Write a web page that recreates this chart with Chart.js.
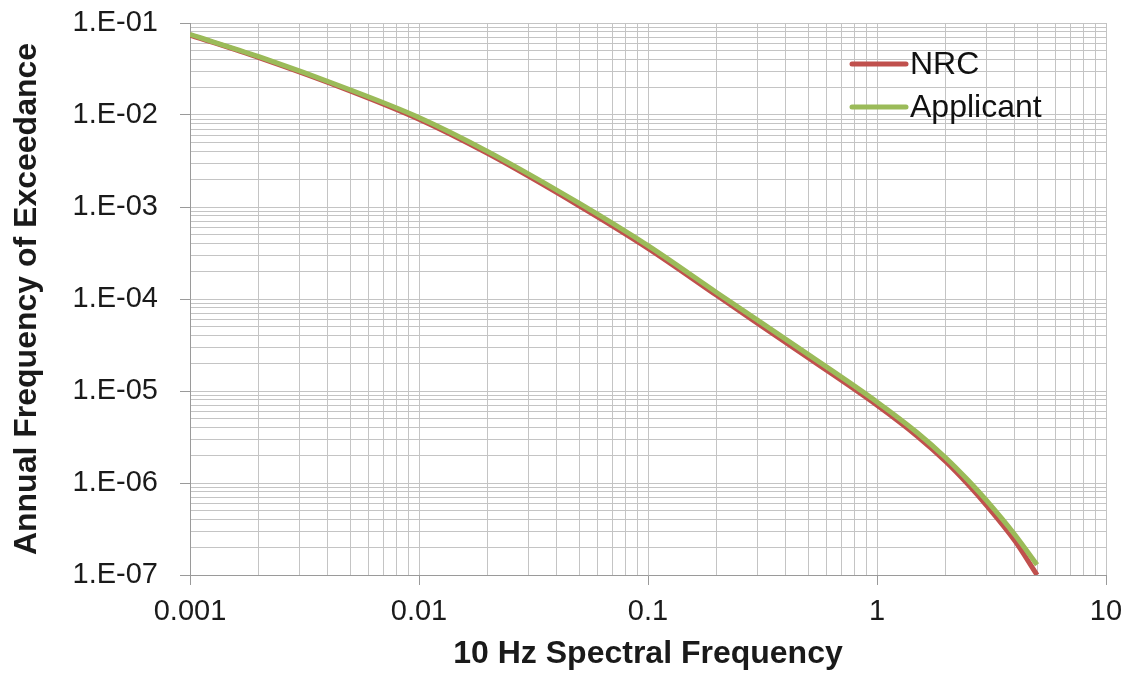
<!DOCTYPE html>
<html>
<head>
<meta charset="utf-8">
<script src="https://cdn.jsdelivr.net/npm/chart.js@4.4.1/dist/chart.umd.min.js"></script>
<style>
  html, body { margin: 0; padding: 0; background: #ffffff; }
  #wrap { width: 1130px; height: 673px; position: relative; }
</style>
</head>
<body>
<div id="wrap"><canvas id="c" width="1130" height="673"></canvas></div>
<script>
// ---- data ----
const spectralFreq = [0.001, 0.002, 0.005, 0.01, 0.02, 0.05, 0.1, 0.2, 0.5, 1, 1.5, 2, 2.5, 3, 4, 5];
const nrcAFE       = [7.4e-2, 4.2e-2, 1.83e-2, 9.0e-3, 3.8e-3, 1.03e-3, 3.55e-4, 1.09e-4, 2.3e-5, 7.0e-6, 3.22e-6, 1.7e-6, 9.6e-7, 5.75e-7, 2.35e-7, 1.0e-7];
const applicantAFE = [7.5e-2, 4.3e-2, 1.88e-2, 9.4e-3, 4.0e-3, 1.1e-3, 3.8e-4, 1.17e-4, 2.5e-5, 7.6e-6, 3.52e-6, 1.87e-6, 1.07e-6, 6.5e-7, 2.74e-7, 1.29e-7];
const seriesNames  = ['NRC', 'Applicant'];
const seriesColors = ['#C0504D', '#9BBB59'];
const xTickValues  = [0.001, 0.01, 0.1, 1, 10];
const xTickLabels  = ['0.001', '0.01', '0.1', '1', '10'];
const yTickValues  = [1e-7, 1e-6, 1e-5, 1e-4, 1e-3, 1e-2, 1e-1];
const yTickLabels  = ['1.E-07', '1.E-06', '1.E-05', '1.E-04', '1.E-03', '1.E-02', '1.E-01'];
const xTitle = '10 Hz Spectral Frequency';
const yTitle = 'Annual Frequency of Exceedance';

const FONT = "'Liberation Sans', Arial, sans-serif";
const GRID = '#c4c4c4';
const AXIS = '#9a9a9a';

function logTicks(values) {
  const out = [];
  for (let d = 0; d < values.length; d++) {
    const base = values[d];
    out.push({ value: base, major: true });
    if (d < values.length - 1) {
      for (let m = 2; m <= 9; m++) out.push({ value: base * m, major: false });
    }
  }
  return out;
}
function labelFor(value, vals, labels) {
  for (let i = 0; i < vals.length; i++) {
    if (Math.abs(Math.log10(value) - Math.log10(vals[i])) < 1e-6) return labels[i];
  }
  return '';
}

const legendPlugin = {
  id: 'customLegend',
  afterDatasetsDraw(chart) {
    const ctx = chart.ctx;
    ctx.save();
    const x0 = 852, x1 = 906, tx = 910;
    const ys = [64, 107];
    ctx.font = '32px ' + FONT;
    ctx.textBaseline = 'middle';
    ctx.textAlign = 'left';
    for (let i = 0; i < seriesNames.length; i++) {
      ctx.strokeStyle = seriesColors[i];
      ctx.lineWidth = 5;
      ctx.lineCap = 'round';
      ctx.beginPath();
      ctx.moveTo(x0, ys[i]);
      ctx.lineTo(x1, ys[i]);
      ctx.stroke();
      ctx.fillStyle = '#111111';
      ctx.fillText(seriesNames[i], tx, ys[i] + 1);
    }
    ctx.restore();
  }
};

const toPoints = (xs, ys) => xs.map((x, i) => ({ x: x, y: ys[i] }));

new Chart(document.getElementById('c'), {
  type: 'line',
  data: {
    datasets: [
      {
        label: seriesNames[0],
        data: toPoints(spectralFreq, nrcAFE),
        borderColor: seriesColors[0],
        borderWidth: 5,
        pointRadius: 0,
        cubicInterpolationMode: 'monotone',
        fill: false,
        order: 1
      },
      {
        label: seriesNames[1],
        data: toPoints(spectralFreq, applicantAFE),
        borderColor: seriesColors[1],
        borderWidth: 5,
        pointRadius: 0,
        cubicInterpolationMode: 'monotone',
        fill: false,
        order: 0
      }
    ]
  },
  options: {
    responsive: false,
    animation: false,
    devicePixelRatio: 1,
    layout: { padding: { left: 0, right: 24, top: 23, bottom: 0 } },
    plugins: {
      legend: { display: false },
      tooltip: { enabled: false }
    },
    scales: {
      x: {
        type: 'logarithmic',
        min: 0.001,
        max: 10,
        afterBuildTicks(scale) { scale.ticks = logTicks(xTickValues); },
        afterFit(scale) { scale.height = 98; scale.paddingLeft = 0; scale.paddingRight = 0; },
        ticks: {
          autoSkip: false,
          maxRotation: 0,
          padding: 10,
          color: '#1a1a1a',
          font: { family: FONT, size: 29 },
          callback: (v) => labelFor(v, xTickValues, xTickLabels)
        },
        grid: {
          color: GRID,
          lineWidth: 1,
          tickLength: 10,
          tickColor: (c) => (c.tick && c.tick.major) ? AXIS : 'rgba(0,0,0,0)'
        },
        border: { color: AXIS, width: 1 },
        title: {
          display: true,
          text: xTitle,
          color: '#1a1a1a',
          font: { family: FONT, size: 32, weight: 'bold' },
          padding: { top: 0, bottom: 0 }
        }
      },
      y: {
        type: 'logarithmic',
        min: 1e-7,
        max: 1e-1,
        afterBuildTicks(scale) { scale.ticks = logTicks(yTickValues); },
        afterFit(scale) { scale.width = 190; scale.paddingTop = 0; scale.paddingBottom = 0; },
        ticks: {
          autoSkip: false,
          padding: 22,
          color: '#1a1a1a',
          font: { family: FONT, size: 29 },
          callback: (v) => labelFor(v, yTickValues, yTickLabels)
        },
        grid: {
          color: GRID,
          lineWidth: 1,
          tickLength: 10,
          tickColor: (c) => (c.tick && c.tick.major) ? AXIS : 'rgba(0,0,0,0)'
        },
        border: { color: AXIS, width: 1 },
        title: {
          display: true,
          text: yTitle,
          color: '#1a1a1a',
          font: { family: FONT, size: 32, weight: 'bold' },
          padding: { top: 8, bottom: 8 }
        }
      }
    }
  },
  plugins: [legendPlugin]
});
</script>
</body>
</html>
